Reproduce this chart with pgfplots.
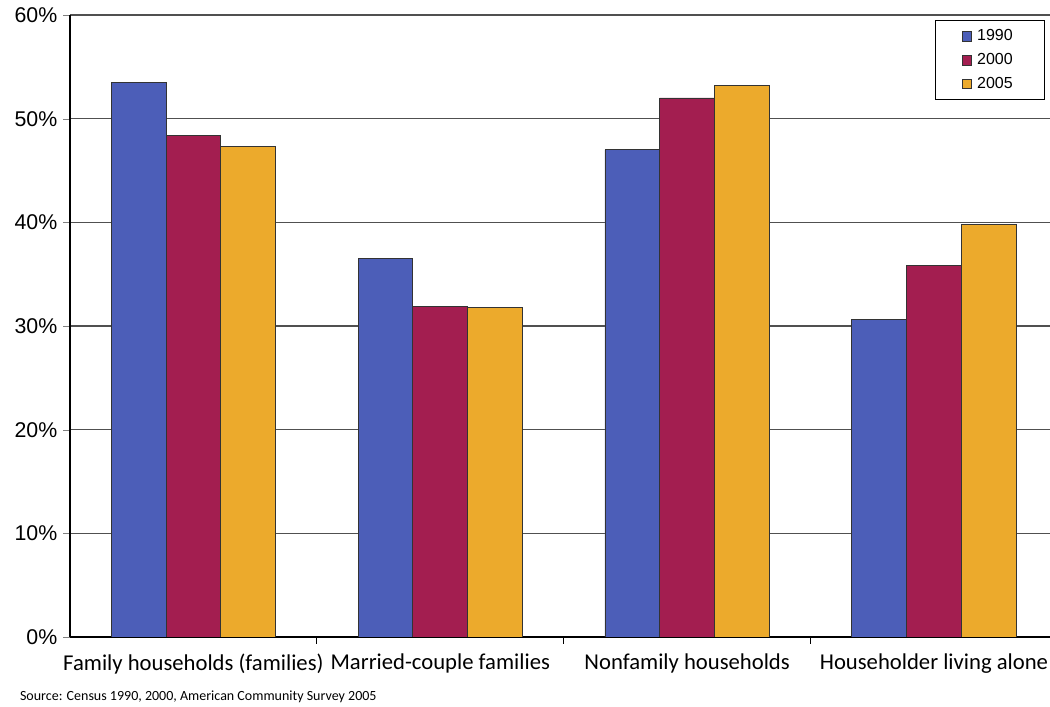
\documentclass[border=0pt]{standalone}
\usepackage{fontspec}
\setmainfont{Liberation Sans}
\newfontfamily\calfont{Carlito}
\usepackage{pgfplots}
\pgfplotsset{compat=1.18}
\definecolor{cBlue}{RGB}{76,94,184}
\definecolor{cRed}{RGB}{163,30,80}
\definecolor{cGold}{RGB}{236,170,44}
\definecolor{gridc}{RGB}{80,80,80}
\begin{document}
\begin{tikzpicture}
\begin{axis}[
  name=ax,
  scale only axis,
  width=735pt, height=466.5pt,
  xmin=-0.5, xmax=3.47,
  ymin=0, ymax=60,
  ybar=0pt, bar width=0.222,
  axis x line*=bottom, axis y line*=left,
  axis line style={black, line width=0.8pt},
  ytick={0,10,20,30,40,50,60},
  yticklabels={0\%,10\%,20\%,30\%,40\%,50\%,60\%},
  yticklabel style={font=\fontsize{16}{18}\selectfont, xshift=-1pt},
  xtick={0,1,2,3},
  xticklabels={Family households (families),Married-couple families,Nonfamily households,Householder living alone},
  xticklabel style={font=\calfont\fontsize{17}{19}\selectfont, yshift=-4pt},
  minor xtick={0.5,1.5,2.5},
  every major x tick/.append style={draw=none},
  every minor x tick/.append style={draw=black, line width=0.8pt},
  tick align=outside,
  major tick length=5pt, minor tick length=5pt,
  ymajorgrids,
  grid style={gridc, line width=0.9pt},
  legend style={at={(rel axis cs:0.995,0.992)}, anchor=north east, draw=black, line width=0.6pt,
    font=\fontsize{12}{14}\selectfont, inner xsep=20pt, inner ysep=5pt, row sep=4pt,
    nodes={inner xsep=4pt}},
  legend image code/.code={\draw[#1, line width=0.4pt] (0pt,-3.5pt) rectangle (7pt,3.5pt);},
  legend cell align=left,
]
\addplot[fill=cBlue, draw=black!80, line width=0.6pt] coordinates {(0,53.5) (1,36.5) (2,47.0) (3,30.6)};
\addplot[fill=cRed, draw=black!80, line width=0.6pt] coordinates {(0,48.4) (1,31.9) (2,52.0) (3,35.8)};
\addplot[fill=cGold, draw=black!80, line width=0.6pt] coordinates {(0,47.3) (1,31.8) (2,53.2) (3,39.8)};
\legend{1990,2000,2005}
\end{axis}
\node[anchor=west, font=\calfont\fontsize{10.5}{12}\selectfont] at ([xshift=-41pt,yshift=-45pt]ax.south west) {Source: Census 1990, 2000, American Community Survey 2005};
\pgfresetboundingbox
\path[use as bounding box] ([xshift=-52.5pt,yshift=-52.5pt]ax.south west) rectangle ([yshift=11.25pt]ax.north east);
\end{tikzpicture}
\end{document}
